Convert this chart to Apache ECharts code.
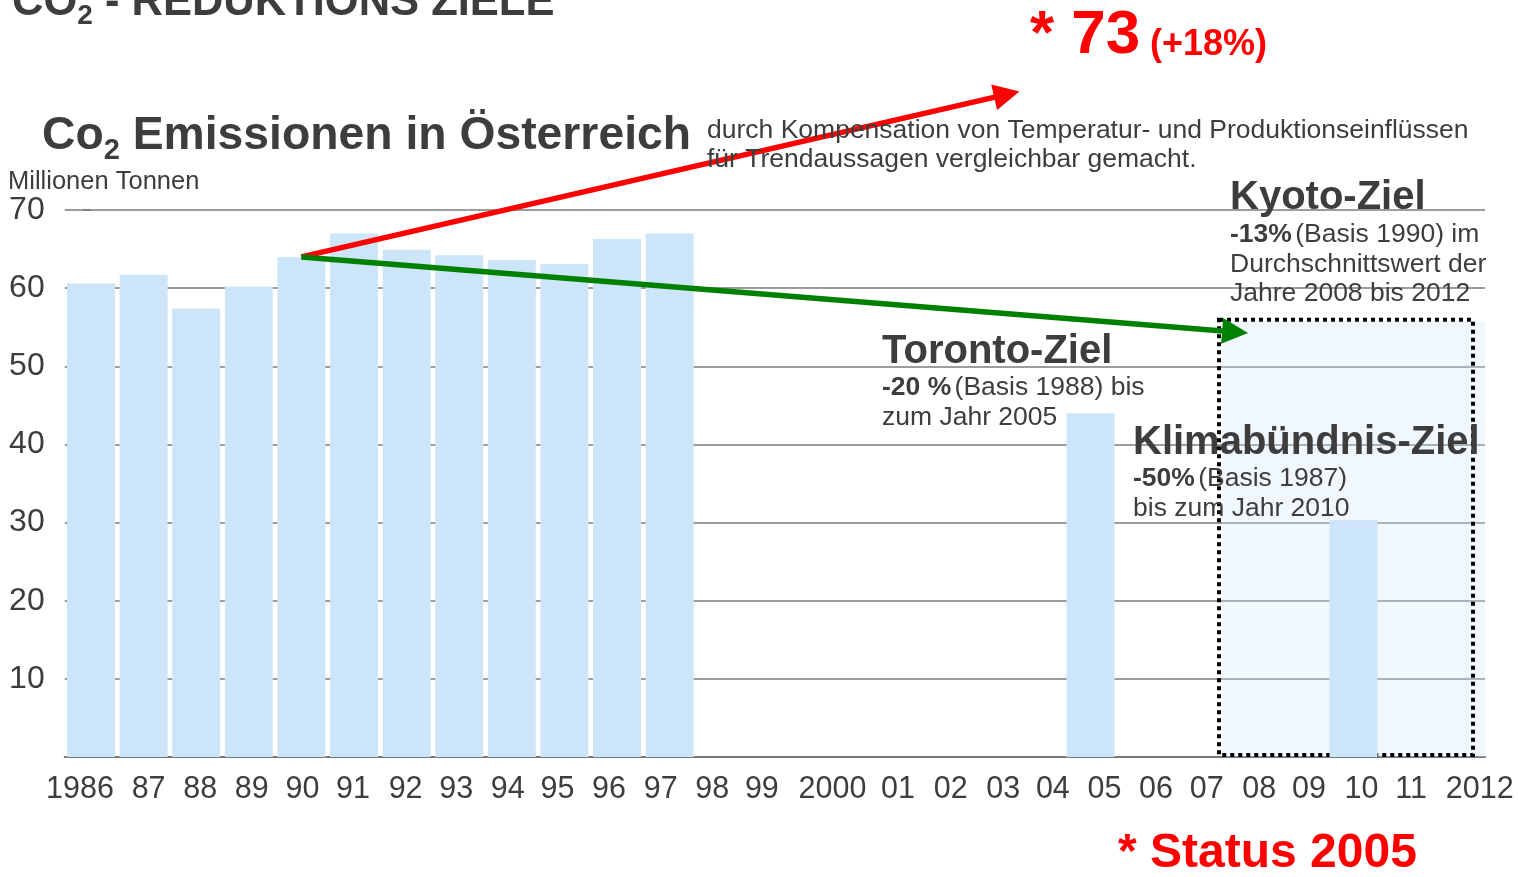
<!DOCTYPE html>
<html>
<head>
<meta charset="utf-8">
<title>CO2 - Reduktions Ziele</title>
<script src="https://cdn.jsdelivr.net/npm/echarts@6/dist/echarts.min.js"></script>
<style>
  html, body { margin: 0; padding: 0; background: #fff; }
  #chart { width: 1518px; height: 877px; }
</style>
</head>
<body>
<div id="chart"></div>
<script>
// Jahre (Achsenbeschriftung wie im Original)
const years = ['1986', '87', '88', '89', '90', '91', '92', '93', '94', '95', '96', '97', '98', '99',
  '2000', '01', '02', '03', '04', '05', '06', '07', '08', '09', '10', '11', '2012'];

// Emissionen in Mio. t
const emissions = [60.6, 61.7, 57.4, 60.2, 64.0, 67.0, 64.9, 64.2, 63.6, 63.1, 66.3, 67.0,
  null, null, null, null, null, null, null, null, null, null, null, null, null, null, null];

// Ziele
const torontoZiel = [null, null, null, null, null, null, null, null, null, null, null, null,
  null, null, null, null, null, null, null, 44.0, null, null, null, null, null, null, null];
const klimaZiel = [null, null, null, null, null, null, null, null, null, null, null, null,
  null, null, null, null, null, null, null, null, null, null, null, null, 30.3, null, null];
const kyotoRange = ['08', '2012'];
const kyotoZiel = 55.7;

// Pfeile: Start beim Basisjahr 1990, Spitzen (Jahresindex, Mio. t)
const baseYear = '90';
const redArrowTip = [17.41, 84.8];
const greenArrowTip = [21.75, 54.4];

const yTicks = [0, 10, 20, 30, 40, 50, 60, 70];

// Versatz der Jahreszahlen gegenüber den Balken (px), wie im Scan
const labelShift = [-11, 5, 4, 3, 1, -1, -1, -3, -4, -7, -8, -9, -10, -13,
  5, 18, 18, 18, 15, 14, 13, 11, 11, 8, 8, 5, 21];

const textColor = '#3d3d3d';
const barColor = '#cde5f8';
const font = "'Liberation Sans', Arial, sans-serif";

const chart = echarts.init(document.getElementById('chart'));

function renderKyoto(params, api) {
  const i0 = api.value(0), i1 = api.value(1), v = api.value(2);
  const band = api.size([1, 0])[0];
  const tl = api.coord([i0, v]);
  const br = api.coord([i1, 0]);
  const x0 = tl[0] - band / 2;
  const x1 = br[0] + band / 2;
  return {
    type: 'group',
    children: [
      {
        type: 'rect',
        shape: { x: x0, y: tl[1], width: x1 - x0, height: br[1] - tl[1] },
        style: { fill: 'rgba(205,229,248,0.3)' },
        z2: 0
      },
      {
        type: 'rect',
        shape: { x: x0 - 3, y: tl[1] - 2, width: x1 - x0 - 9, height: br[1] - tl[1] },
        style: { fill: 'none', stroke: '#000', lineWidth: 4, lineDash: [4, 4] },
        z2: 10
      }
    ]
  };
}

const baseIdx = years.indexOf(baseYear);
const baseVal = emissions[baseIdx];

function txt(x, y, text, size, opts) {
  return {
    type: 'text', x: x, y: y, z: 100,
    style: Object.assign({
      text: text, fill: textColor, fontFamily: font, fontSize: size,
      verticalAlign: 'top', align: 'left'
    }, opts || {})
  };
}

function noteText(x, y, text) {
  return {
    type: 'text', x: x, y: y, z: 100,
    style: {
      text: text, verticalAlign: 'top', fill: textColor,
      rich: {
        b: { fontFamily: font, fontSize: 26.5, fontWeight: 'bold', fill: textColor, lineHeight: 29.5 },
        r: { fontFamily: font, fontSize: 26.5, fill: textColor, lineHeight: 29.5 }
      }
    }
  };
}

// jede Jahreszahl bekommt ihren eigenen Rich-Stil mit Versatz
const labelRich = {};
labelShift.forEach((d, i) => {
  labelRich['y' + i] = {
    color: textColor, fontSize: 30.5, fontFamily: font,
    padding: d >= 0 ? [0, 0, 0, 2 * d] : [0, -2 * d, 0, 0]
  };
});

chart.setOption({
  backgroundColor: '#ffffff',
  animation: false,
  grid: { left: 64.7, right: 33, top: 210, bottom: 120 },
  xAxis: [
    {
      type: 'category',
      data: years,
      axisLine: { lineStyle: { color: '#777', width: 2 } },
      axisTick: { show: false },
      axisLabel: {
        interval: 0, margin: 17,
        formatter: (v, i) => '{y' + i + '|' + v + '}',
        rich: labelRich
      },
      splitLine: { show: false }
    },
    { type: 'value', show: false, min: -0.5, max: years.length - 0.5 }
  ],
  yAxis: {
    type: 'value',
    min: yTicks[0],
    max: yTicks[yTicks.length - 1],
    interval: 10,
    axisLine: { show: false },
    axisTick: { show: true, length: 8, lineStyle: { color: '#777', width: 1.5 } },
    axisLabel: {
      color: textColor, fontSize: 32, fontFamily: font, margin: 20,
      padding: [6, 0, 0, 0],
      formatter: v => (v === 0 ? '' : String(v))
    },
    splitLine: { lineStyle: { color: '#7d7d7d', width: 1.5 } }
  },
  series: [
    {
      type: 'custom',
      renderItem: renderKyoto,
      xAxisIndex: 0,
      encode: { x: 0, y: 2 },
      data: [[years.indexOf(kyotoRange[0]), years.indexOf(kyotoRange[1]), kyotoZiel]],
      z: 1,
      silent: true
    },
    {
      name: 'Emissionen',
      type: 'bar',
      data: emissions,
      barWidth: 48,
      barGap: '-100%',
      itemStyle: { color: barColor },
      z: 2
    },
    {
      name: 'Toronto-Ziel',
      type: 'bar',
      data: torontoZiel,
      barWidth: 48,
      barGap: '-100%',
      itemStyle: { color: barColor },
      z: 2
    },
    {
      name: 'Klimabündnis-Ziel',
      type: 'bar',
      data: klimaZiel,
      barWidth: 48,
      barGap: '-100%',
      itemStyle: { color: barColor },
      z: 2
    },
    {
      type: 'lines',
      coordinateSystem: 'cartesian2d',
      xAxisIndex: 1,
      yAxisIndex: 0,
      clip: false,
      symbol: ['none', 'triangle'],
      symbolSize: [24, 26],
      z: 20,
      lineStyle: { width: 5.5, opacity: 1 },
      data: [
        { coords: [[baseIdx, baseVal], redArrowTip], lineStyle: { color: '#ff0000' } },
        { coords: [[baseIdx, baseVal], greenArrowTip], lineStyle: { color: '#008000' } }
      ]
    }
  ],
  graphic: [
    {
      type: 'text', x: 12, y: -24, z: 100,
      style: {
        text: '{t|CO}{s|2}{t| - REDUKTIONS ZIELE}',
        fill: textColor, verticalAlign: 'top',
        rich: {
          t: { fontFamily: font, fontWeight: 'bold', fontSize: 43.5, fill: textColor },
          s: { fontFamily: font, fontWeight: 'bold', fontSize: 28, fill: textColor, padding: [26, 0, 0, 0] }
        }
      }
    },
    {
      type: 'text', x: 42, y: 108, z: 100,
      style: {
        text: '{t|Co}{s|2}{t| Emissionen in Österreich}',
        fill: textColor, verticalAlign: 'top',
        rich: {
          t: { fontFamily: font, fontWeight: 'bold', fontSize: 46.3, fill: textColor },
          s: { fontFamily: font, fontWeight: 'bold', fontSize: 29, fill: textColor, padding: [28, 0, 0, 0] }
        }
      }
    },
    txt(707, 116, 'durch Kompensation von Temperatur- und Produktionseinflüssen\nfür Trendaussagen vergleichbar gemacht.', 26.5, { lineHeight: 29 }),
    txt(8, 169, 'Millionen Tonnen', 25.5),

    txt(1230, 178, 'Kyoto-Ziel', 40, { fontWeight: 'bold' }),
    noteText(1230, 220, '{b|-13%} {r|(Basis 1990) im}\n{r|Durchschnittswert der}\n{r|Jahre 2008 bis 2012}'),

    txt(882, 332, 'Toronto-Ziel', 40, { fontWeight: 'bold' }),
    noteText(882, 373, '{b|-20 %} {r|(Basis 1988) bis}\n{r|zum Jahr 2005}'),

    txt(1133, 423, 'Klimabündnis-Ziel', 40, { fontWeight: 'bold' }),
    noteText(1133, 464, '{b|-50%} {r|(Basis 1987)}\n{r|bis zum Jahr 2010}'),

    txt(1030, 5, '* 73', 62, { fontWeight: 'bold', fill: '#ff0000' }),
    txt(1150, 27, '(+18%)', 36, { fontWeight: 'bold', fill: '#ff0000' }),
    txt(1118, 830, '* Status 2005', 48, { fontWeight: 'bold', fill: '#ff0000' })
  ]
});
</script>
</body>
</html>
